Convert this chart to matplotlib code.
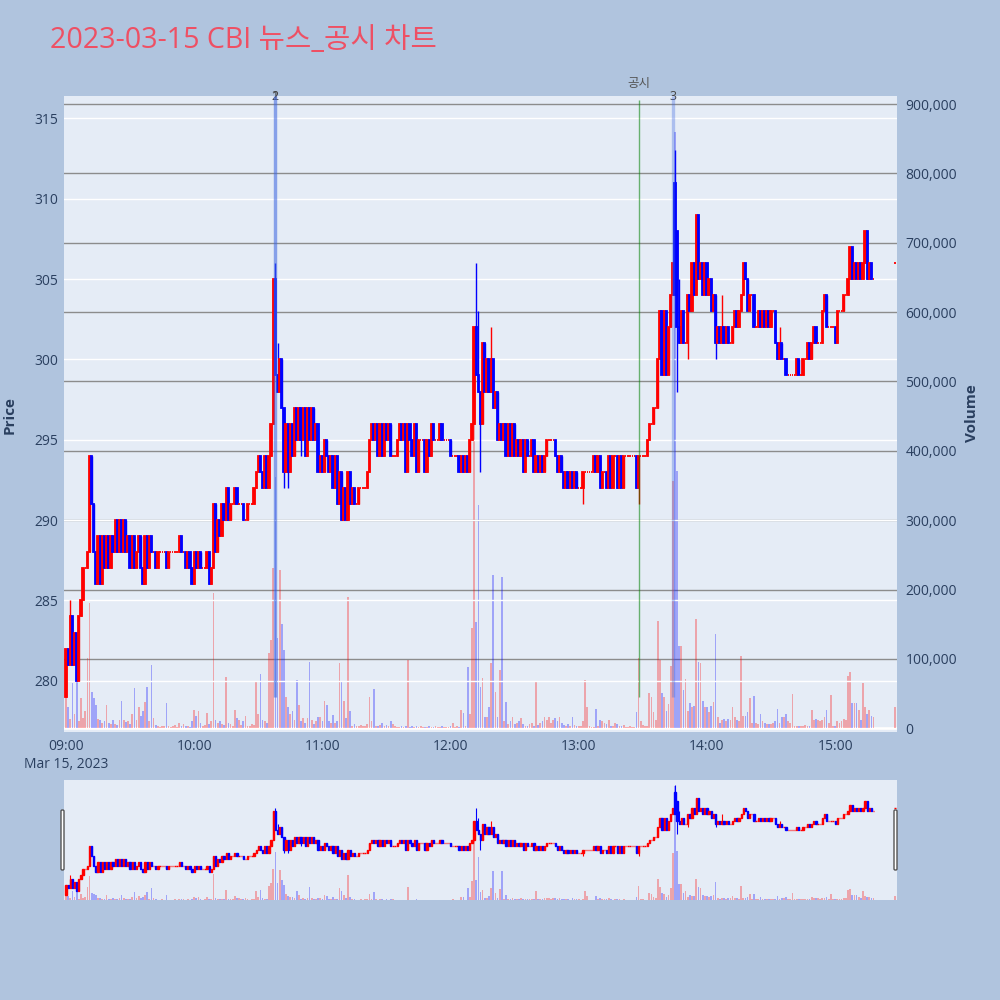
import numpy as np
import pandas as pd
import matplotlib
matplotlib.use("Agg")
import matplotlib.pyplot as plt
import matplotlib.dates as mdates
from matplotlib.patches import FancyBboxPatch
from matplotlib.ticker import FuncFormatter, MultipleLocator

plt.rcParams["font.family"] = ["Open Sans", "Noto Sans CJK KR", "DejaVu Sans"]

TITLE = "2023-03-15 CBI 뉴스_공시 차트"
session_start = "2023-03-15 09:00"
closing_time = "2023-03-15 15:28"

# one-minute closes from 09:00
first_open = 279
closes = [
    282, 281, 284, 281, 283, 280, 284, 285, 287, 287,
    288, 294, 291, 288, 286, 289, 286, 289, 287, 289,
    287, 289, 288, 290, 288, 290, 288, 290, 288, 289,
    287, 289, 287, 288, 289, 287, 286, 289, 287, 289,
    288, 288, 287, 288, 288, 288, 288, 287, 288, 288,
    288, 288, 288, 289, 288, 288, 287, 288, 287, 286,
    288, 287, 288, 287, 287, 287, 288, 286, 287, 291,
    288, 290, 289, 291, 290, 292, 290, 291, 291, 292,
    291, 291, 291, 290, 290, 291, 291, 291, 292, 293,
    294, 293, 292, 294, 292, 294, 296, 305, 299, 298,
    300, 297, 293, 296, 293, 296, 294, 297, 295, 297,
    295, 297, 294, 297, 295, 297, 295, 296, 293, 294,
    293, 295, 294, 293, 294, 292, 294, 291, 293, 290,
    292, 290, 293, 291, 292, 291, 291, 292, 292, 292,
    292, 293, 295, 296, 295, 296, 294, 296, 294, 296,
    295, 296, 294, 294, 294, 295, 296, 295, 296, 293,
    296, 295, 294, 296, 293, 295, 295, 295, 293, 295,
    294, 296, 295, 295, 295, 296, 295, 295, 295, 295,
    294, 294, 294, 294, 293, 294, 293, 294, 293, 295,
    296, 302, 299, 298, 296, 301, 298, 300, 298, 300,
    297, 298, 295, 296, 295, 296, 294, 296, 294, 296,
    294, 295, 294, 295, 293, 295, 294, 294, 295, 293,
    294, 293, 294, 293, 294, 295, 295, 295, 295, 294,
    293, 294, 293, 292, 293, 292, 293, 292, 293, 292,
    292, 292, 293, 293, 293, 293, 293, 294, 293, 294,
    292, 293, 293, 292, 294, 292, 294, 294, 292, 294,
    292, 294, 294, 294, 294, 294, 294, 292, 294, 294,
    294, 294, 295, 296, 296, 297, 297, 300, 303, 299,
    303, 299, 302, 304, 306, 304, 302, 301, 303, 301,
    301, 304, 303, 306, 304, 309, 305, 306, 304, 306,
    304, 305, 303, 304, 301, 302, 301, 302, 301, 302,
    301, 301, 302, 303, 302, 303, 304, 306, 305, 303,
    304, 304, 302, 302, 303, 302, 303, 302, 303, 302,
    303, 303, 301, 300, 301, 300, 300, 299, 299, 299,
    299, 299, 300, 299, 299, 300, 300, 301, 300, 301,
    302, 301, 301, 301, 303, 304, 302, 302, 302, 302,
    301, 303, 303, 303, 304, 304, 305, 307, 305, 306,
    305, 306, 305, 306, 308, 305, 306, 305, 305,
]
close_auction = 306

# candles whose open differs from the previous close
open_override = {285: 311, 286: 308}
# wick extremes beyond the body
wick_high = {2: 285, 98: 306, 99: 301, 192: 306, 193: 303, 199: 302,
             285: 313, 287: 305, 307: 304, 334: 302}
wick_low = {102: 292, 104: 292, 110: 294, 194: 293, 242: 291, 268: 291,
            286: 298, 291: 300, 304: 300}

volumes = [
    45000, 30000, 14000, 66000, 20000, 115000, 10000, 43000, 15000, 25000,
    101000, 180000, 52000, 43000, 34000, 14000, 12000, 8000, 10000, 34000,
    8000, 6000, 12000, 6000, 5000, 12000, 40000, 12000, 9000, 10000,
    6000, 20000, 58000, 12000, 30000, 18000, 25000, 38000, 60000, 10000,
    91000, 15000, 5000, 3000, 2000, 4000, 3000, 36000, 3000, 2000,
    3000, 5000, 2000, 8000, 4000, 6000, 3000, 4000, 2000, 10000,
    26000, 18000, 25000, 8000, 3000, 5000, 22000, 6000, 10000, 195000,
    12000, 8000, 10000, 6000, 5000, 74000, 8000, 6000, 4000, 27000,
    15000, 12000, 5000, 10000, 18000, 4000, 3000, 6000, 5000, 67000,
    20000, 79000, 12000, 10000, 8000, 108000, 127000, 231000, 363000, 130000,
    228000, 150000, 113000, 45000, 30000, 20000, 25000, 12000, 69000, 34000,
    10000, 15000, 8000, 15000, 96000, 12000, 6000, 10000, 16000, 16000,
    10000, 40000, 33000, 10000, 8000, 19000, 8000, 10000, 94000, 67000,
    40000, 15000, 190000, 25000, 4000, 6000, 3000, 3000, 5000, 3000,
    4000, 6000, 45000, 10000, 57000, 4000, 3000, 5000, 8000, 3000,
    5000, 3000, 10000, 6000, 3000, 2000, 2000, 3000, 2000, 3000,
    98000, 2000, 3000, 2000, 4000, 2000, 3000, 2000, 2000, 2000,
    3000, 2000, 2000, 3000, 2000, 2000, 3000, 2000, 2000, 2000,
    3000, 8000, 2000, 3000, 2000, 26000, 22000, 3000, 88000, 20000,
    144000, 449000, 153000, 322000, 60000, 72000, 16000, 16000, 30000, 94000,
    221000, 52000, 16000, 84000, 218000, 10000, 38000, 6000, 10000, 16000,
    6000, 8000, 10000, 15000, 6000, 4000, 4000, 6000, 8000, 4000,
    67000, 5000, 8000, 10000, 16000, 12000, 16000, 8000, 12000, 15000,
    10000, 16000, 8000, 5000, 4000, 6000, 3000, 16000, 5000, 4000,
    4000, 3000, 10000, 69000, 31000, 3000, 2000, 2000, 28000, 4000,
    12000, 10000, 8000, 6000, 12000, 4000, 3000, 8000, 6000, 4000,
    3000, 5000, 2000, 2000, 3000, 2000, 2000, 23000, 102000, 10000,
    5000, 3000, 3000, 51000, 45000, 23000, 12000, 155000, 99000, 51000,
    45000, 25000, 35000, 90000, 357000, 860000, 371000, 118000, 118000, 55000,
    71000, 25000, 36000, 30000, 32000, 157000, 96000, 94000, 40000, 30000,
    30000, 24000, 32000, 38000, 136000, 16000, 8000, 12000, 14000, 10000,
    14000, 12000, 30000, 16000, 12000, 10000, 104000, 18000, 18000, 24000,
    44000, 8000, 47000, 8000, 6000, 20000, 10000, 8000, 6000, 6000,
    6000, 8000, 10000, 28000, 8000, 16000, 16000, 20000, 10000, 8000,
    50000, 4000, 4000, 4000, 4000, 4000, 5000, 4000, 4000, 26000,
    12000, 14000, 12000, 10000, 12000, 16000, 26000, 8000, 48000, 4000,
    4000, 10000, 8000, 10000, 14000, 12000, 75000, 81000, 36000, 36000,
    36000, 26000, 12000, 66000, 30000, 20000, 26000, 18000, 16000,
]
close_auction_volume = 30000

event_marks = [("1", "2023-03-15 10:38"), ("2", "2023-03-15 10:38"), ("3", "2023-03-15 13:44")]
disclosure_label, disclosure_time = "공시", "2023-03-15 13:28"

# ---- assemble OHLC ----
n = len(closes)
times = pd.date_range(session_start, periods=n, freq="min").append(pd.DatetimeIndex([closing_time]))
c = np.array(closes + [close_auction], dtype=float)
o = np.r_[first_open, c[:-1]]
o[-1] = close_auction
for i, v in open_override.items():
    o[i] = v
h = np.maximum(o, c)
l = np.minimum(o, c)
for i, v in wick_high.items():
    h[i] = v
for i, v in wick_low.items():
    l[i] = v
vol = np.array(volumes + [close_auction_volume], dtype=float)

prev_c = np.r_[c[0], c[:-1]]
up = (c > o) | ((c == o) & (c >= prev_c))
cols = np.where(up, "#ff0000", "#0000ff")

x = mdates.date2num(times)
MIN = 1.0 / 1440.0

BG = "#e5ecf6"
PAPER = "#b0c4de"
TXT = "#2a3f5f"

fig = plt.figure(figsize=(10, 10), dpi=100, facecolor=PAPER)

# main panel: volume underneath, price on top
axv = fig.add_axes([0.064, 0.2683, 0.833, 0.6357])
axp = axv.twinx()
axv.set_zorder(1)
axp.set_zorder(2)
axv.patch.set_visible(True)
axv.set_facecolor(BG)
axp.patch.set_visible(False)

xlo, xhi = x[0] - 0.94 * MIN, x[-1] + 0.94 * MIN
vmax = vol.max()
vlim = (-0.0057 * vmax, 1.06 * vmax)
plim = (276.83, 316.39)


def draw_candles(ax, body_lw, wick_lw):
    ax.vlines(x, l, h, colors=cols, linewidth=wick_lw, zorder=3)
    ax.bar(x, c - o, bottom=o, width=0.6 * MIN, color=cols, edgecolor=cols,
           linewidth=body_lw, zorder=3)


def draw_volume(ax):
    ax.bar(x, vol, width=0.8 * MIN, color=cols, alpha=0.3, linewidth=0, zorder=2)


# volume layer
draw_volume(axv)
axv.set_ylim(*vlim)
axv.set_xlim(xlo, xhi)
axv.yaxis.set_major_locator(MultipleLocator(100000))
axv.grid(axis="y", color="#8c8c8c", linewidth=1.0)
axv.set_axisbelow(True)
axv.axhline(0, color="white", linewidth=2, zorder=1)
axv.yaxis.tick_right()
axv.yaxis.set_label_position("right")
axv.yaxis.set_major_formatter(FuncFormatter(lambda v, p: f"{int(round(v)):,}"))
axv.tick_params(axis="y", length=0, pad=6, labelsize=10, labelcolor=TXT)
axv.tick_params(axis="x", length=0, pad=5, labelsize=10, labelcolor=TXT)
axv.xaxis.set_major_locator(mdates.HourLocator())


def fmt_time(v, pos):
    d = mdates.num2date(v)
    s = d.strftime("%H:%M")
    if d.hour == 9 and d.minute == 0:
        s += "\nMar 15, 2023"
    return s


axv.xaxis.set_major_formatter(FuncFormatter(fmt_time))
for lab in axv.get_xticklabels():
    lab.set_linespacing(1.35)
for s in axv.spines.values():
    s.set_visible(False)

# price layer
draw_candles(axp, body_lw=1.3, wick_lw=1.0)
axp.set_ylim(*plim)
axp.set_xlim(xlo, xhi)
axp.yaxis.set_major_locator(MultipleLocator(5))
axp.yaxis.tick_left()
axp.grid(axis="y", color="white", linewidth=1.0, zorder=0)
axp.set_axisbelow(True)
axp.tick_params(axis="y", length=0, pad=4, labelsize=10, labelcolor=TXT)
axp.tick_params(axis="x", length=0, labelbottom=False)
for s in axp.spines.values():
    s.set_visible(False)

# event markers
day_low = l.min()
for label, t in event_marks:
    xt = mdates.date2num(pd.Timestamp(t))
    axp.vlines(xt, day_low, plim[1], colors="royalblue", alpha=0.35, linewidth=2.4, zorder=4)
    axp.annotate(label, (xt, 1.0), xycoords=("data", "axes fraction"), ha="center",
                 va="center", fontsize=9, color="#444444", annotation_clip=False)
xd = mdates.date2num(pd.Timestamp(disclosure_time))
axp.vlines(xd, day_low, plim[1] - 0.25, colors="green", alpha=0.55, linewidth=1.0, zorder=4)
axp.annotate(disclosure_label, (xd, 1.0), xycoords=("data", "axes fraction"),
             xytext=(0, 4), textcoords="offset points", ha="center", va="bottom",
             fontsize=9, color="#555555", annotation_clip=False)

# axis titles and heading
fig.text(0.010, 0.585, "Price", rotation=90, ha="center", va="center",
         fontsize=11, fontweight="bold", color=TXT)
fig.text(0.972, 0.587, "Volume", rotation=90, ha="center", va="center",
         fontsize=11, fontweight="bold", color=TXT)
fig.text(0.050, 0.959, TITLE, ha="left", va="center", fontsize=20.6, color="#ee5064")

# range slider overview
sv = fig.add_axes([0.064, 0.100, 0.833, 0.120])
sp = sv.twinx()
sv.set_zorder(1)
sp.set_zorder(2)
sv.set_facecolor(BG)
sp.patch.set_visible(False)
draw_volume(sv)
sv.set_ylim(0, 1.05 * vmax)
pspan = h.max() - l.min()
sp.set_ylim(l.min() - 0.05 * pspan, h.max() + 0.05 * pspan)
draw_candles(sp, body_lw=1.0, wick_lw=0.8)
for a in (sv, sp):
    a.set_xlim(xlo, xhi)
    a.set_xticks([])
    a.set_yticks([])
    for s in a.spines.values():
        s.set_visible(False)

# slider handles
for hx in (0.0625, 0.8955):
    fig.patches.append(FancyBboxPatch((hx - 0.0015, 0.130), 0.003, 0.060,
                                      boxstyle="round,pad=0,rounding_size=0.0012",
                                      transform=fig.transFigure, facecolor="white",
                                      edgecolor="#555555", linewidth=1.0, zorder=5))

fig.savefig("out.png", dpi=100, facecolor=PAPER)
